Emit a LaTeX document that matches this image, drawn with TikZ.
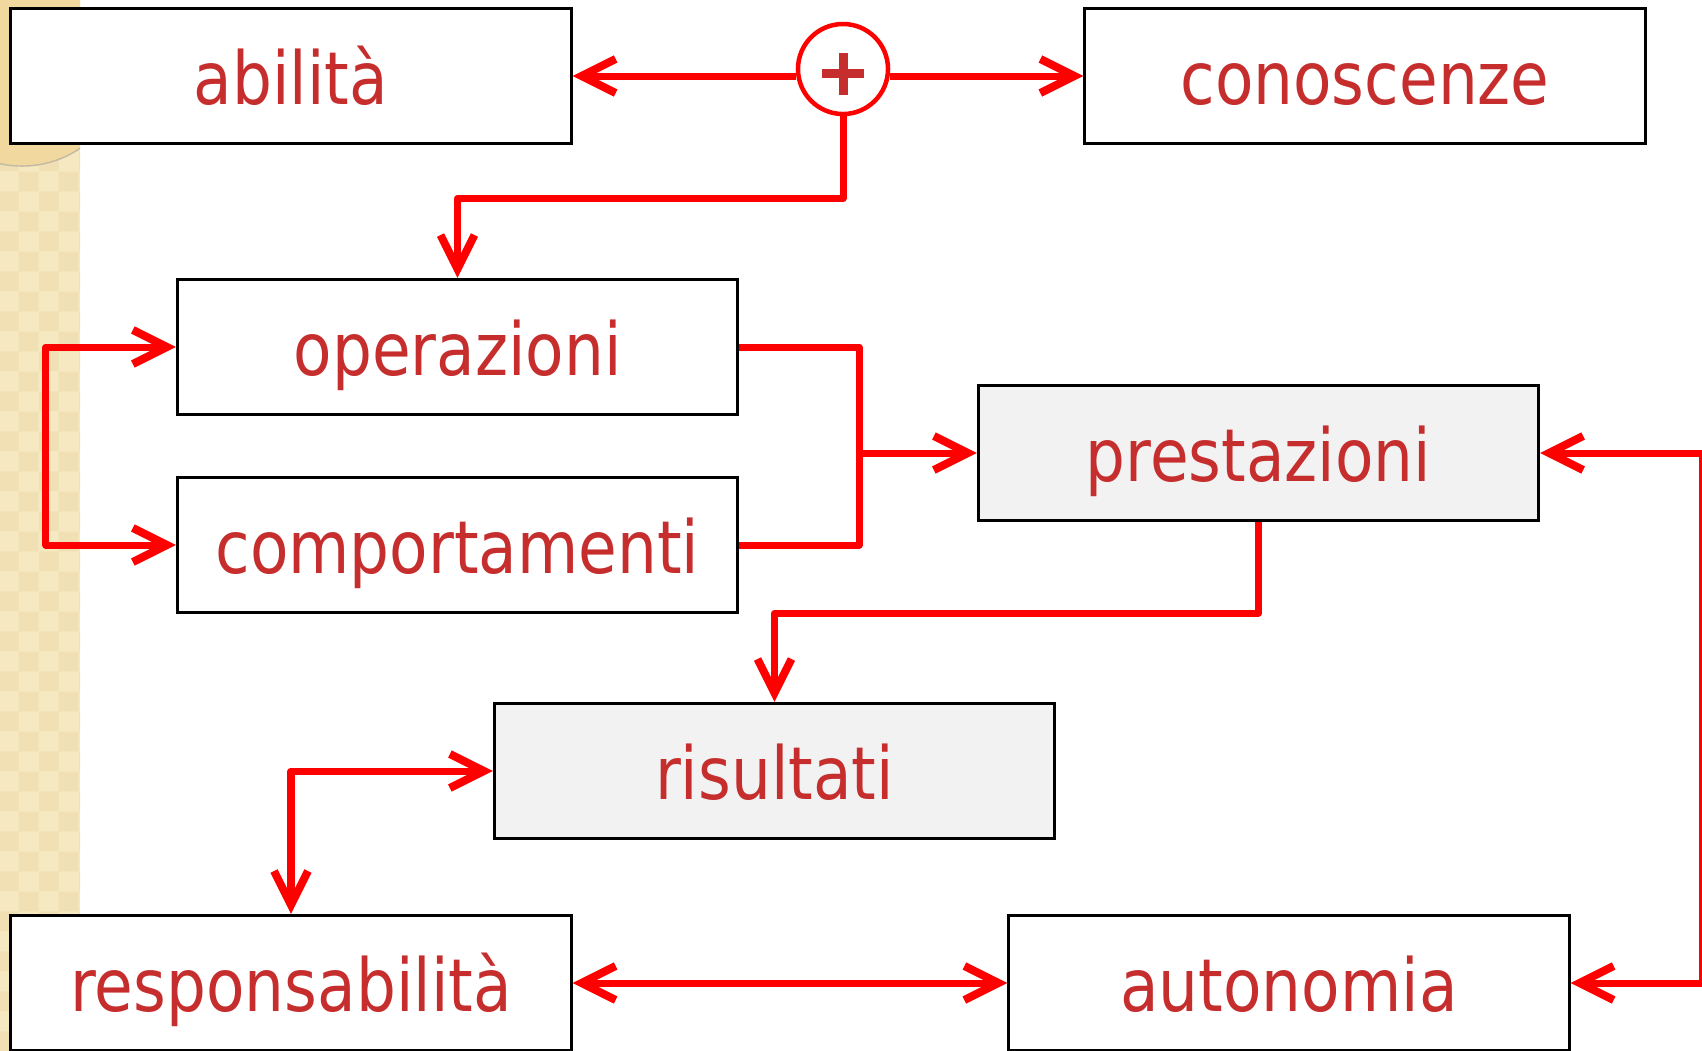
\documentclass[tikz,border=0pt]{standalone}
\usepackage{fontspec}
\setmainfont{DejaVu Sans}[FakeStretch=0.86]
\usetikzlibrary{arrows.meta,patterns}
\definecolor{txtred}{RGB}{198,46,46}
\definecolor{linered}{RGB}{255,0,0}
\definecolor{boxgray}{RGB}{242,242,242}
\definecolor{sand}{RGB}{246,232,192}
\definecolor{sanddark}{RGB}{240,224,180}
\definecolor{sandring}{RGB}{240,216,158}

\begin{document}
\begin{tikzpicture}[x=0.01cm, y=-0.01cm,
    box/.style={draw=black, line width=0.03cm, fill=white, minimum width=5.6cm,
      minimum height=1.35cm, inner sep=0pt, text=txtred,
      font=\fontsize{20.8pt}{25pt}\selectfont, text height=0.75cm, text depth=0.18cm},
    shaded/.style={box, fill=boxgray},
    plus/.style={circle, draw=linered, line width=0.045cm, fill=white, minimum size=0.9cm,
      inner sep=0pt, path picture={
        \draw[txtred, line width=0.09cm]
          (path picture bounding box.center) ++(-0.21cm,-0.045cm) -- ++(0.42cm,0)
          (path picture bounding box.center) ++(0,0.165cm) -- ++(0,-0.42cm);}},
    conn/.style={draw=linered, line width=0.07cm, line join=round},
    arr/.style={conn, -{Straight Barb[length=3.4mm,width=3.4mm,line width=0.08cm]}},
    arr2/.style={conn, {Straight Barb[length=3.4mm,width=3.4mm,line width=0.08cm]}-{Straight Barb[length=3.4mm,width=3.4mm,line width=0.08cm]}}]

  \useasboundingbox (0,0) rectangle (1702,1050);

  % fascia a sinistra
  \fill[sand] (0,0) rectangle (80,1050);
  \fill[pattern=checkerboard, pattern color=sanddark] (0,0) rectangle (80,1050);
  \begin{scope}
    \clip (0,0) rectangle (80,1050);
    \draw[fill=sandring, draw=sanddark!70!black!70] (22,62) circle[radius=1.04cm];
  \end{scope}

  \path (291,76)     node[box]    (abil)  {abilità}
        (1365,76)    node[box]    (cono)  {conoscenze}
        (457.5,347)  node[box]    (oper)  {operazioni}
        (457.5,545)  node[box]    (comp)  {comportamenti}
        (1258.5,453) node[shaded] (prest) {prestazioni}
        (774.5,771)  node[shaded] (risul) {risultati}
        (291,983)    node[box]    (resp)  {responsabilità}
        (1289,983)   node[box]    (auto)  {autonomia}
        (843,69)     node[plus]   (piu)   {};
  \coordinate (nodo) at (859,453);

  \draw[arr] (piu.west |- abil.east) -- (abil.east);
  \draw[arr] (piu.east |- cono.west) -- (cono.west);
  \draw[arr] (piu.south) -- ++(0,82) -| (oper.north);
  \draw[conn] (oper.east) -| (nodo) |- (comp.east);
  \draw[arr] (nodo) -- (prest.west);
  \draw[arr2] (oper.west) -- ++(-130,0) |- (comp.west);
  \draw[arr] (prest.south) -- ++(0,91) -| (risul.north);
  \draw[arr2] (risul.west) -| (resp.north);
  \draw[arr2] (resp.east) -- (auto.west);
  \draw[arr2] (prest.east) -- ++(162,0) |- (auto.east);
\end{tikzpicture}
\end{document}
